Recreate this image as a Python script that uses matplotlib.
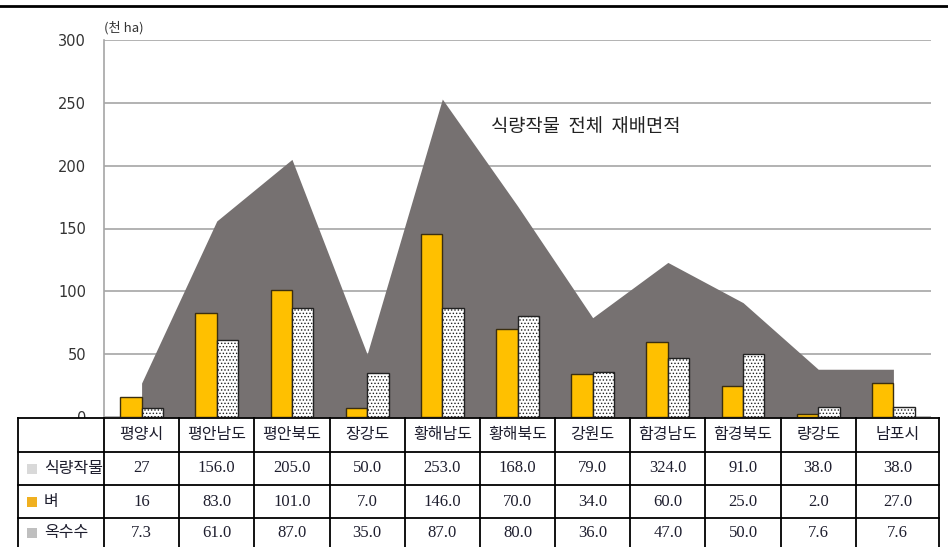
import numpy as np
import matplotlib.pyplot as plt
from matplotlib.patches import Rectangle

plt.rcParams['font.family'] = ['Noto Sans CJK KR', 'DejaVu Sans']
plt.rcParams['hatch.linewidth'] = 0.6

categories = ['평양시', '평안남도', '평안북도', '장강도', '황해남도', '황해북도',
              '강원도', '함경남도', '함경북도', '량강도', '남포시']
total_area = [27, 156, 205, 50, 253, 168, 79, 123, 91, 38, 38]   # as drawn
rice = [16, 83, 101, 7, 146, 70, 34, 60, 25, 2, 27]
corn = [7.3, 61, 87, 35, 87, 80, 36, 47, 50, 7.6, 7.6]

# table text as printed
total_text = ['27', '156.0', '205.0', '50.0', '253.0', '168.0', '79.0',
              '324.0', '91.0', '38.0', '38.0']
rice_text = ['16', '83.0', '101.0', '7.0', '146.0', '70.0', '34.0',
             '60.0', '25.0', '2.0', '27.0']
corn_text = ['7.3', '61.0', '87.0', '35.0', '87.0', '80.0', '36.0',
             '47.0', '50.0', '7.6', '7.6']
row_names = ['식량작물', '벼', '옥수수']
row_colors = ['#D9D9D9', '#F0B020', '#BFBFBF']
yticks = [0, 50, 100, 150, 200, 250, 300]

W, H = 948, 547
fig = plt.figure(figsize=(W / 100, H / 100), dpi=100)

# plot area in pixels
x0, x1, ytop, ybot = 104, 931, 40, 417
ax = fig.add_axes([x0 / W, (H - ybot) / H, (x1 - x0) / W, (ybot - ytop) / H])

x = np.arange(len(categories))
ax.fill_between(x, total_area, color='#767171', lw=0, zorder=2)
bw = 0.285
ax.bar(x, rice, width=-bw, align='edge', color='#FFC000',
       edgecolor='#3A2E10', lw=1, zorder=3)
ax.bar(x, corn, width=bw, align='edge', color='white', hatch='.....',
       edgecolor='#222222', lw=1, zorder=3)

ax.set_xlim(-0.5, len(categories) - 0.5)
ax.set_ylim(0, 300)
ax.set_yticks(yticks)
ax.set_xticks([])
ax.tick_params(axis='y', length=0, pad=13, labelsize=10.5, labelcolor='#333333')
for lab in ax.get_yticklabels():
    lab.set_family(['DejaVu Sans'])
ax.grid(axis='y', color='#A6A6A6', lw=1.2, zorder=0)
for s in ['top', 'right', 'bottom']:
    ax.spines[s].set_visible(False)
ax.spines['left'].set_color('#A6A6A6')
ax.spines['left'].set_linewidth(1.2)

ax.text(0.0, 1.015, '(천 ha)', transform=ax.transAxes, fontsize=9.5,
        color='#333333', va='bottom', ha='left')
ax.text(4.65, 231, '식량작물  전체  재배면적', fontsize=13.5, color='#222222',
        va='center', ha='left', zorder=4)

# table drawn in pixel coordinates
axt = fig.add_axes([0, 0, 1, 1])
axt.set_xlim(0, W)
axt.set_ylim(H, 0)
axt.axis('off')
axt.plot([0, W], [6, 6], color='black', lw=2)

cw = (x1 - x0) / len(categories)
edges = [18] + [x0 + cw * i for i in range(len(categories))] + [939]
rows_y = [418, 452, 485, 518, 560]
axt.add_patch(Rectangle((edges[0], rows_y[0]), edges[-1] - edges[0],
                        H - rows_y[0], facecolor='white', edgecolor='none'))
for e in edges:
    axt.plot([e, e], [rows_y[0], H], color='black', lw=1.3)
for r in rows_y[:-1]:
    axt.plot([edges[0], edges[-1]], [r, r], color='black', lw=1.3)

tc = '#1E1E2E'
for i, name in enumerate(categories):
    cx = (edges[i + 1] + edges[i + 2]) / 2
    axt.text(cx, (rows_y[0] + rows_y[1]) / 2, name, ha='center', va='center',
             fontsize=11.5, color=tc)
    for j, vals in enumerate([total_text, rice_text, corn_text]):
        cy = (rows_y[j + 1] + rows_y[j + 2]) / 2
        if j == 2:
            cy = 533
        axt.text(cx, cy, vals[i], ha='center', va='center', fontsize=12,
                 color=tc, family=['Liberation Serif'])

for j, (name, col) in enumerate(zip(row_names, row_colors)):
    cy = (rows_y[j + 1] + rows_y[j + 2]) / 2
    if j == 2:
        cy = 533
    axt.add_patch(Rectangle((27, cy - 5), 10, 10, facecolor=col, edgecolor='none'))
    axt.text(44, cy, name, ha='left', va='center', fontsize=11.5, color=tc)

fig.savefig('out.png', dpi=100)
